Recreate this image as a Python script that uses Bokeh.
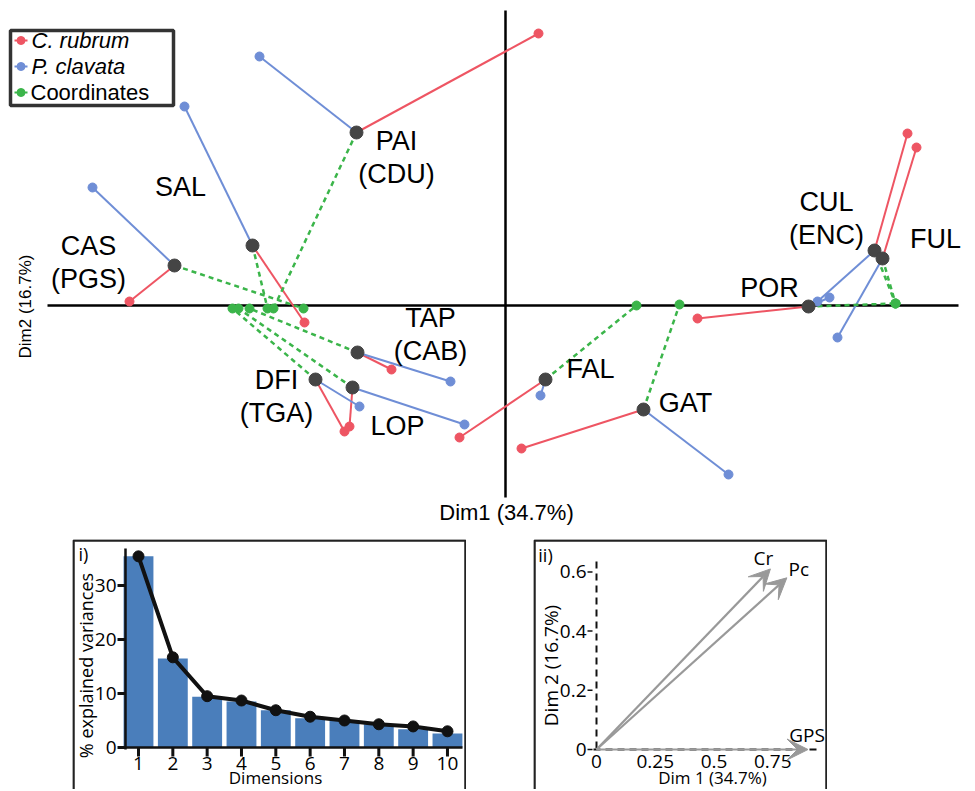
import numpy as np
from bokeh.plotting import figure
from bokeh.layouts import column, row
from bokeh.models import Range1d, ColumnDataSource, Arrow, VeeHead, Spacer
from bokeh.core.properties import value
from bokeh.embed import file_html
from bokeh.resources import INLINE

# ---------------- main biplot data (Dim1, Dim2 scores) ----------------
sites = ["CAS", "SAL", "PAI", "TAP", "DFI", "LOP", "FAL", "GAT", "POR", "CUL", "FUL"]
site_labels = ["CAS\n(PGS)", "SAL", "PAI\n(CDU)", "TAP\n(CAB)", "DFI\n(TGA)", "LOP",
               "FAL", "GAT", "POR", "CUL\n(ENC)", "FUL"]
center_x = [-3.31, -2.53, -1.49, -1.48, -1.90, -1.53, 0.40, 1.38, 3.03, 3.69, 3.77]
center_y = [0.40, 0.60, 1.73, -0.47, -0.74, -0.82, -0.74, -1.04, -0.01, 0.55, 0.47]
cr_x = [-3.76, -2.01, 0.33, -1.14, -1.61, -1.56, -0.46, 0.16, 1.92, 4.02, 4.11]
cr_y = [0.04, -0.17, 2.72, -0.64, -1.26, -1.21, -1.32, -1.43, -0.13, 1.72, 1.58]
pc_x = [-4.13, -3.21, -2.46, -0.55, -1.46, -0.41, 0.35, 2.23, 3.24, 3.12, 3.32]
pc_y = [1.18, 1.99, 2.49, -0.76, -1.01, -1.19, -0.90, -1.69, 0.08, 0.04, -0.32]
gps_x = [-2.02, -2.38, -2.32, -2.56, -2.73, -2.67, 1.31, 1.74, 3.90, 3.90, 3.90]
gps_y = [-0.03, -0.03, -0.03, -0.03, -0.03, -0.03, 0.00, 0.01, 0.02, 0.02, 0.02]
legend_labels = ["C. rubrum", "P. clavata", "Coordinates"]
xlab_main = "Dim1 (34.7%)"
ylab_main = "Dim2 (16.7%)"

# ---------------- scree plot data ----------------
dims = [1, 2, 3, 4, 5, 6, 7, 8, 9, 10]
bar_vals = [35.4, 16.5, 9.4, 8.5, 6.9, 5.4, 5.0, 4.3, 3.4, 2.6]
line_vals = [35.4, 16.7, 9.5, 8.7, 6.9, 5.7, 5.0, 4.3, 3.9, 3.0]
scree_yticks = [0, 10, 20, 30]

# ---------------- correlation arrows data ----------------
var_names = ["Cr", "Pc", "GPS"]
var_x = [0.74, 0.81, 0.90]
var_y = [0.61, 0.58, 0.0]
corr_xticks = [0, 0.25, 0.5, 0.75]
corr_xtick_labels = ["0", "0.25", "0.5", "0.75"]
corr_yticks = [0, 0.2, 0.4, 0.6]
corr_ytick_labels = ["0", "0.2", "0.4", "0.6"]

# ---------------- styles ----------------
RED = "#EE5563"
BLUE = "#6F8ED6"
GREEN = "#3BB54A"
DARK = "#454545"
BARC = "#4A7EBB"
ARROWC = "#999999"
FONT_MAIN = "Liberation Sans"
FONT_PANEL = "Open Sans"

# label offsets in screen px (dx right, dy down) relative to site centre
label_off = [(-86, -3), (-72, -59), (40, 25), (73, -18), (-39, 17), (45, 38),
             (45, -11), (42, -7), (-39, -19), (-48, -32), (53, -20)]

# ======================= main figure =======================
OX, OY, S = 505, 305, 100.0   # page px of origin and px per unit
def mx(px): return (px - OX) / S
def my(py): return (OY - py) / S

MW, MH = 975, 539
p = figure(width=MW, height=MH, output_backend="svg", toolbar_location=None,
           x_range=Range1d(mx(0), mx(MW)), y_range=Range1d(my(MH), my(0)),
           min_border=0, outline_line_color=None, background_fill_color="white")
p.axis.visible = False
p.grid.visible = False

# axis lines through origin
p.segment(x0=[mx(47), 0], y0=[0, my(10)], x1=[mx(958), 0], y1=[0, my(497)],
          line_color="black", line_width=2.5)

p.segment(center_x, center_y, cr_x, cr_y, line_color=RED, line_width=2)
p.segment(center_x, center_y, pc_x, pc_y, line_color=BLUE, line_width=2)
p.segment(center_x, center_y, gps_x, gps_y, line_color=GREEN, line_width=2.5, line_dash="5 4")
p.scatter(cr_x, cr_y, size=9, color=RED)
p.scatter(pc_x, pc_y, size=9, color=BLUE)
p.scatter(gps_x, gps_y, size=9, color=GREEN)
p.scatter(center_x, center_y, size=13, color=DARK)

lab_x = [cx + dx / S for cx, (dx, dy) in zip(center_x, label_off)]
lab_y = [cy - dy / S for cy, (dx, dy) in zip(center_y, label_off)]
p.text(x=lab_x, y=lab_y, text=site_labels, text_align="center", text_baseline="middle",
       text_font=value(FONT_MAIN), text_font_size="27px", text_line_height=1.08,
       text_color="black")

p.text(x=[mx(506)], y=[my(512)], text=[xlab_main], text_align="center", text_baseline="middle",
       text_font=value(FONT_MAIN), text_font_size="22px", text_color="black")
p.text(x=[mx(25)], y=[my(306)], text=[ylab_main], angle=np.pi / 2, text_align="center",
       text_baseline="middle", text_font=value(FONT_MAIN), text_font_size="17px",
       text_color="black")

# manual legend
p.quad(left=[mx(10)], right=[mx(173)], top=[my(30)], bottom=[my(105)],
       fill_color="white", line_color="#333333", line_width=3.5)
leg_y = [my(40), my(66), my(92)]
leg_cols = [RED, BLUE, GREEN]
p.segment(x0=[mx(14)] * 3, y0=leg_y, x1=[mx(27)] * 3, y1=leg_y, line_color=leg_cols, line_width=2)
p.scatter(x=[mx(20.5)] * 3, y=leg_y, size=8, color=leg_cols)
p.text(x=[mx(31)] * 2, y=leg_y[:2], text=legend_labels[:2], text_align="left",
       text_baseline="middle", text_font=value(FONT_MAIN), text_font_size="22px",
       text_font_style="italic", text_color="black")
p.text(x=[mx(30)], y=leg_y[2:], text=legend_labels[2:], text_align="left",
       text_baseline="middle", text_font=value(FONT_MAIN), text_font_size="22px",
       text_color="black")

# ======================= panel i (scree) =======================
BW, BH = 394, 250
BX0, BY0 = 72, 539   # page px of panel top-left
def ix(px): return 1 + (px - 138) / 34.33
def iy(py): return (747 - py) / 5.4

p1 = figure(width=BW, height=BH, output_backend="svg", toolbar_location=None,
            x_range=Range1d(ix(BX0), ix(BX0 + BW)), y_range=Range1d(iy(BY0 + BH), iy(BY0)),
            min_border=0, outline_line_color=None)
p1.axis.visible = False
p1.grid.visible = False
p1.line(x=[ix(73), ix(73), ix(465), ix(465)], y=[iy(800), iy(540), iy(540), iy(800)],
        line_color="#222222", line_width=2.5)

p1.vbar(x=dims, top=bar_vals, bottom=0, width=0.87, fill_color=BARC, line_color=None)
p1.line(dims, line_vals, line_color="#111111", line_width=4)
p1.scatter(dims, line_vals, size=11, color="#111111")

# axes
p1.segment(x0=[ix(125), ix(125)], y0=[iy(749), 0], x1=[ix(125), ix(462)], y1=[iy(548), 0],
           line_color="#111111", line_width=2.5)
p1.segment(x0=[ix(117)] * 4, y0=scree_yticks, x1=[ix(125)] * 4, y1=scree_yticks,
           line_color="#111111", line_width=3)
p1.text(x=[ix(116)] * 4, y=scree_yticks, text=[str(t) for t in scree_yticks], text_align="right",
        text_baseline="middle", text_font=value(FONT_PANEL), text_font_size="19px", text_color="black")
p1.segment(x0=dims, y0=[0] * 10, x1=dims, y1=[iy(756)] * 10, line_color="#111111", line_width=3)
p1.text(x=dims, y=[iy(763)] * 10, text=[str(d) for d in dims], text_align="center",
        text_baseline="middle", text_font=value(FONT_PANEL), text_font_size="19px", text_color="black")
p1.text(x=[ix(275)], y=[iy(777)], text=["Dimensions"], text_align="center",
        text_baseline="middle", text_font=value(FONT_PANEL), text_font_size="17px", text_color="black")
p1.text(x=[ix(85)], y=[iy(665)], text=["% explained variances"], angle=np.pi / 2,
        text_align="center", text_baseline="middle", text_font=value(FONT_PANEL),
        text_font_size="18px", text_color="black")
p1.text(x=[ix(83)], y=[iy(553)], text=["i)"], text_align="center", text_baseline="middle",
        text_font=value(FONT_PANEL), text_font_size="18px", text_color="black")

# ======================= panel ii (correlation circle) =======================
CW, CH = 294, 250
CX0, CY0 = 533, 539
def vx(px): return (px - 596) / 235.0
def vy(py): return (749 - py) / 296.0

p2 = figure(width=CW, height=CH, output_backend="svg", toolbar_location=None,
            x_range=Range1d(vx(CX0), vx(CX0 + CW)), y_range=Range1d(vy(CY0 + CH), vy(CY0)),
            min_border=0, outline_line_color=None)
p2.axis.visible = False
p2.grid.visible = False
p2.line(x=[vx(534), vx(534), vx(826), vx(826)], y=[vy(800), vy(540), vy(540), vy(800)],
        line_color="#222222", line_width=2.5)

# dashed axes
p2.segment(x0=[0, vx(593)], y0=[vy(748), 0], x1=[0, vx(818)], y1=[vy(557), 0],
           line_color="#111111", line_width=2, line_dash="7 5")
p2.segment(x0=[vx(587)] * 4, y0=corr_yticks, x1=[vx(592)] * 4, y1=corr_yticks,
           line_color="#111111", line_width=1.5)
p2.text(x=[vx(586)] * 4, y=corr_yticks, text=corr_ytick_labels, text_align="right",
        text_baseline="middle", text_font=value(FONT_PANEL), text_font_size="19px", text_color="black")
p2.text(x=corr_xticks, y=[vy(761)] * 4, text=corr_xtick_labels, text_align="center",
        text_baseline="middle", text_font=value(FONT_PANEL), text_font_size="19px", text_color="black")
p2.text(x=[vx(712)], y=[vy(777)], text=["Dim 1 (34.7%)"], text_align="center",
        text_baseline="middle", text_font=value(FONT_PANEL), text_font_size="17px", text_color="black")
p2.text(x=[vx(550)], y=[vy(665)], text=["Dim 2 (16.7%)"], angle=np.pi / 2,
        text_align="center", text_baseline="middle", text_font=value(FONT_PANEL),
        text_font_size="19px", text_color="black")
p2.text(x=[vx(545)], y=[vy(554)], text=["ii)"], text_align="center", text_baseline="middle",
        text_font=value(FONT_PANEL), text_font_size="18px", text_color="black")

asrc = ColumnDataSource(dict(x0=[0.0] * 3, y0=[0.0] * 3, x1=var_x, y1=var_y))
p2.add_layout(Arrow(end=VeeHead(size=21, fill_color=ARROWC, line_color=ARROWC),
                    x_start="x0", y_start="y0", x_end="x1", y_end="y1", source=asrc,
                    line_color=ARROWC, line_width=2.2))
lab_dx = [-7 / 235.0, 12 / 235.0, -1 / 235.0]
lab_dy = [11 / 296.0, 9 / 296.0, 15 / 296.0]
p2.text(x=[a + b for a, b in zip(var_x, lab_dx)], y=[a + b for a, b in zip(var_y, lab_dy)],
        text=var_names, text_align="center", text_baseline="middle",
        text_font=value(FONT_PANEL), text_font_size="19px", text_color="black")

layout = column(p, row(Spacer(width=BX0, height=BH), p1,
                       Spacer(width=CX0 - (BX0 + BW), height=CH), p2))
open("out.html", "w").write(file_html(layout, INLINE))
